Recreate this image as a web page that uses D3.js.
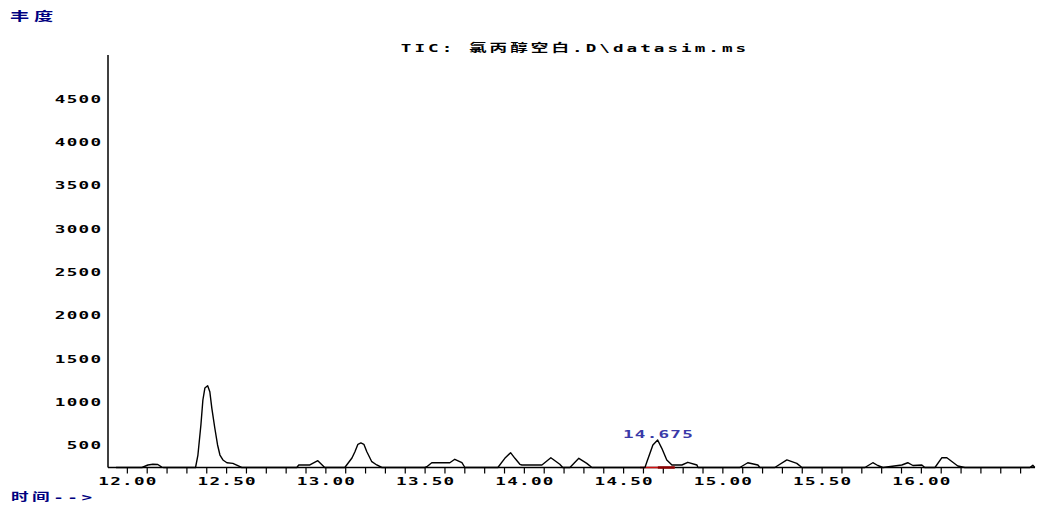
<!DOCTYPE html>
<html>
<head>
<meta charset="utf-8">
<script src="https://cdn.jsdelivr.net/npm/d3@7/dist/d3.min.js"></script>
<style>
  html, body { margin: 0; padding: 0; background: #fff; }
  svg { display: block; }
  .lbl { font-family: "DejaVu Sans Mono", "Noto Sans CJK SC", monospace; font-weight: bold; }
</style>
</head>
<body>
<svg id="chart" width="1038" height="506"></svg>
<script>
// Total ion chromatogram: retention time (min) and abundance
const times = [
  11.945, 12.076, 12.106, 12.131, 12.156, 12.176, 12.186,
  12.346, 12.358, 12.373, 12.383, 12.393, 12.407, 12.418, 12.428, 12.443, 12.457,
  12.469, 12.484, 12.504, 12.534, 12.559, 12.579,
  12.856, 12.866, 12.922, 12.962, 12.997,
  13.098, 13.134, 13.149, 13.164, 13.179, 13.194, 13.209, 13.234, 13.259, 13.285,
  13.501, 13.511, 13.536, 13.627, 13.652, 13.688, 13.703,
  13.869, 13.904, 13.933, 13.955, 13.980, 13.990, 14.091, 14.136, 14.181, 14.196,
  14.232, 14.277, 14.317, 14.343,
  14.610, 14.620, 14.650, 14.674, 14.695, 14.720, 14.746, 14.761, 14.796, 14.826, 14.872, 14.877,
  15.088, 15.128, 15.179, 15.189,
  15.264, 15.325, 15.375, 15.401,
  15.718, 15.758, 15.783, 15.809,
  15.904, 15.934, 15.960, 16.005, 16.020,
  16.071, 16.106, 16.131, 16.161, 16.186, 16.222,
  16.549, 16.564, 16.574
];
const abundance = [
  240, 240, 269, 277, 275, 245, 240,
  240, 384, 730, 1019, 1157, 1183, 1114, 926, 696, 500,
  384, 327, 295, 288, 261, 240,
  240, 269, 269, 318, 240,
  240, 350, 422, 508, 523, 508, 422, 307, 269, 240,
  240, 249, 295, 295, 335, 295, 240,
  240, 346, 411, 346, 277, 269, 269, 353, 277, 240,
  240, 346, 288, 240,
  240, 307, 500, 557, 461, 327, 269, 269, 269, 300, 269, 240,
  240, 295, 269, 240,
  240, 327, 288, 240,
  240, 295, 263, 240,
  269, 295, 263, 269, 240,
  240, 353, 353, 300, 257, 240,
  240, 265, 240
];

// Axis ticks and labels
const yTickValues = [500, 1000, 1500, 2000, 2500, 3000, 3500, 4000, 4500];
const xLabelValues = [12.0, 12.5, 13.0, 13.5, 14.0, 14.5, 15.0, 15.5, 16.0];
const xMinorStart = 12.0, xMinorEnd = 16.5, xMinorStep = 0.1;

// Labelled peak and its integration baseline
const peakTime = 14.675;
const peakLabel = "14.675";
const integStart = 14.585, integEnd = 14.76;

const titleText = "TIC: 氯丙醇空白.D\\datasim.ms";
const yAxisTitle = "丰度";
const xAxisTitle = "时间-->";

const svg = d3.select("#chart");
const x = d3.scaleLinear().domain([11.905, 16.575]).range([108, 1035]);
const y = d3.scaleLinear().domain([240, 5000]).range([467.5, 55]);

const SX = 1.6;         // horizontal stretch of the label font
const LS = 0.8;         // letter spacing for numeric labels

// Title
svg.append("text").attr("class", "lbl")
  .attr("transform", `translate(575,52) scale(${SX},1)`)
  .attr("text-anchor", "middle")
  .style("font-size", "11px").style("letter-spacing", "1.9px")
  .attr("fill", "#000").text(titleText);

// Axis titles
svg.append("text").attr("class", "lbl")
  .attr("transform", `translate(10,21) scale(1.6,1)`)
  .style("font-size", "12px").style("letter-spacing", "3px")
  .attr("fill", "#000080").text(yAxisTitle);

svg.append("text").attr("class", "lbl")
  .attr("transform", `translate(11,501) scale(${SX},1)`)
  .style("font-size", "11px").style("letter-spacing", "2.2px")
  .attr("fill", "#000080").text(xAxisTitle);

// Y axis
const yAxis = svg.append("g").attr("transform", "translate(108,0)")
  .call(d3.axisLeft(y).tickValues(yTickValues).tickSize(0).tickFormat(d3.format("d")));
yAxis.select(".domain").remove();
yAxis.selectAll(".tick text")
  .attr("class", "lbl").attr("x", null).attr("dy", null)
  .attr("transform", `translate(${-7 + LS * SX},4) scale(${SX},1)`)
  .attr("text-anchor", "end").attr("fill", "#000")
  .style("font-size", "11px").style("letter-spacing", LS + "px")
  .attr("font-family", null).attr("font-size", null);
svg.append("line")
  .attr("x1", 108).attr("x2", 108).attr("y1", y(5000)).attr("y2", y(240))
  .attr("stroke", "#000").attr("stroke-width", 1.5);

// X axis
const minorTicks = d3.range(0, Math.round((xMinorEnd - xMinorStart) / xMinorStep) + 1)
  .map(i => +(xMinorStart + i * xMinorStep).toFixed(2));
const isLabelled = v => xLabelValues.some(l => Math.abs(l - v) < 1e-6);
const xAxis = svg.append("g").attr("transform", `translate(0,${y(240)})`)
  .call(d3.axisBottom(x).tickValues(minorTicks).tickSize(6)
    .tickFormat(d => isLabelled(d) ? d.toFixed(2) : ""));
xAxis.select(".domain").remove();
xAxis.selectAll(".tick line").attr("stroke", "#000").attr("stroke-width", 1.2);
xAxis.selectAll(".tick text")
  .attr("class", "lbl").attr("y", null).attr("dy", null)
  .attr("transform", `translate(${LS * SX / 2},17.5) scale(${SX},1)`)
  .attr("text-anchor", "middle").attr("fill", "#000")
  .style("font-size", "11px").style("letter-spacing", LS + "px")
  .attr("font-family", null).attr("font-size", null);
svg.append("line")
  .attr("x1", 108).attr("x2", 1035).attr("y1", y(240)).attr("y2", y(240))
  .attr("stroke", "#000").attr("stroke-width", 1.5);

// Integration baseline under the labelled peak
svg.append("line")
  .attr("x1", x(integStart)).attr("x2", x(integEnd))
  .attr("y1", y(240)).attr("y2", y(240))
  .attr("stroke", "#d01010").attr("stroke-width", 1.6);
svg.append("line")
  .attr("x1", x(peakTime)).attr("x2", x(integEnd))
  .attr("y1", y(240)).attr("y2", y(240))
  .attr("stroke", "#8a0000").attr("stroke-width", 2.4);

// Chromatogram trace
const pts = times.map((t, i) => [t, abundance[i]]);
svg.append("path").datum(pts)
  .attr("fill", "none").attr("stroke", "#000").attr("stroke-width", 1.4)
  .attr("stroke-linejoin", "round")
  .attr("d", d3.line().x(d => x(d[0])).y(d => y(d[1])));

// Peak retention-time label
const apexIdx = times.indexOf(14.674);
svg.append("text").attr("class", "lbl")
  .attr("transform", `translate(${x(peakTime) + LS * SX / 2},${y(abundance[apexIdx]) - 2}) scale(${SX},1)`)
  .attr("text-anchor", "middle")
  .style("font-size", "11px").style("letter-spacing", LS + "px")
  .attr("fill", "#3a3aa8").text(peakLabel);
</script>
</body>
</html>
